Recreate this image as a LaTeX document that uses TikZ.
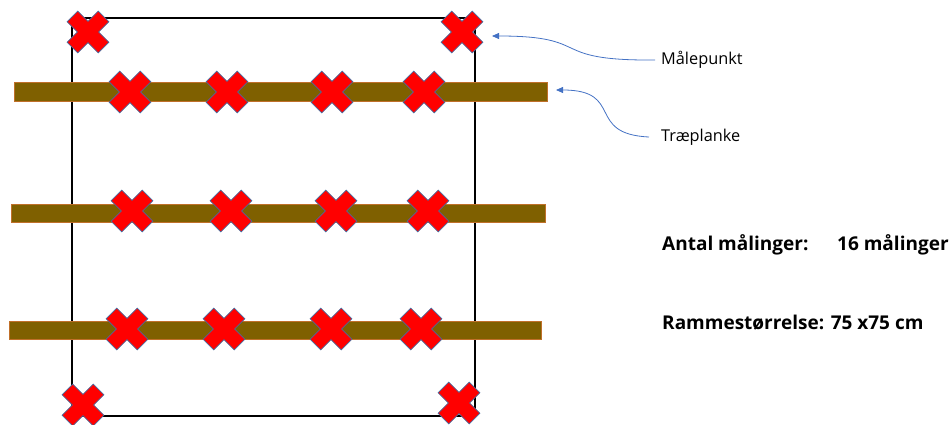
\documentclass[tikz,border=0pt]{standalone}
\usepackage{fontspec}
\setmainfont{Open Sans}
\usetikzlibrary{arrows.meta}
\definecolor{plankbrown}{HTML}{7F6000}
\definecolor{plankedge}{HTML}{C0702A}
\definecolor{xred}{HTML}{FF0000}
\definecolor{xedge}{HTML}{4A6A9C}
\definecolor{arrowblue}{HTML}{4472C4}
\tikzset{
  plank/.style={fill=plankbrown,draw=plankedge,line width=0.6pt},
  frame/.style={draw=black,line width=2pt},
  arr/.style={draw=arrowblue,line width=0.8pt,-{Triangle[length=7pt,width=6pt]}},
  lbl/.style={anchor=west,inner sep=0pt,font=\fontsize{16.3}{19}\selectfont},
  blbl/.style={anchor=west,inner sep=0pt,font=\fontsize{19}{23}\selectfont\bfseries},
  xmark/.pic={
    \filldraw[fill=xred,draw=xedge,line width=0.7pt,rotate=45]
      (7.5,22)--(7.5,7.5)--(22,7.5)--(22,-7.5)--(7.5,-7.5)--(7.5,-22)
      --(-7.5,-22)--(-7.5,-7.5)--(-22,-7.5)--(-22,7.5)--(-7.5,7.5)--(-7.5,22)--cycle;
  }
}
\begin{document}
\begin{tikzpicture}[x=1pt,y=-1pt]
\useasboundingbox (0,0) rectangle (952,425);
% frame
\draw[frame] (72,18) rectangle (475,416);
% planks
\path[plank] (14,82) rectangle (547,101);
\path[plank] (11,204) rectangle (545,222);
\path[plank] (9,321) rectangle (541,339);
% corner crosses
\pic at (88,32) {xmark};
\pic at (462,32) {xmark};
\pic at (83,405) {xmark};
\pic at (459,403) {xmark};
% plank crosses
\foreach \x in {130,227,332,424} \pic at (\x,92) {xmark};
\foreach \x in {132,231,336,428} \pic at (\x,211) {xmark};
\foreach \x in {127,224,331,421} \pic at (\x,329) {xmark};
% labels
\node[lbl] (mp) at (661,60) {Målepunkt};
\node[lbl] (tp) at (661,137) {Træplanke};
\coordinate (mpend) at (492,36);
\coordinate (tpend) at (556,90);
\draw[arr] ([xshift=-6pt]mp.west) .. controls (545,61) and (595,36) .. (mpend);
\draw[arr] ([xshift=-12pt]tp.west) .. controls (585,134) and (625,90) .. (tpend);
\node[blbl] (antal) at (662,245) {Antal målinger:};
\node[blbl] (antalv) at (837,245) {16 målinger};
\node[blbl] (ramme) at (662,323) {Rammestørrelse: 75 x75 cm};
\end{tikzpicture}
\end{document}
